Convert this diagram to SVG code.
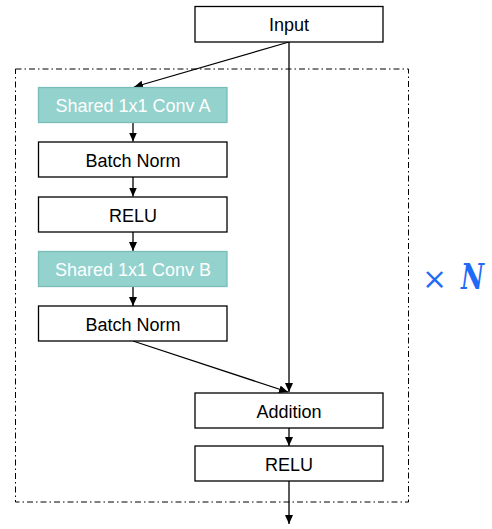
<svg xmlns="http://www.w3.org/2000/svg" width="492" height="529" viewBox="0 0 492 529">
<style>
.box{fill:#fff;stroke:#000;stroke-width:1.3}
.teal{fill:#93d2cd;stroke:#78bdb7;stroke-width:1.3}
.t{font-family:"Liberation Sans",Arial,sans-serif;font-size:18px;text-anchor:middle;fill:#000}
.tw{fill:#fff}
.c{stroke:#000;stroke-width:1.3;fill:none}
</style>
<defs>
<marker id="ah" markerWidth="10" markerHeight="10" refX="9" refY="5" orient="auto" markerUnits="userSpaceOnUse">
<path d="M0,1 L9,5 L0,9 Z" fill="#000"/>
</marker>
</defs>
<rect x="15.5" y="69" width="393" height="433" fill="none" stroke="#000" stroke-width="1" stroke-dasharray="6,3,1.5,3"/>
<g id="connectors">
<line class="c" x1="289" y1="42" x2="134" y2="87" marker-end="url(#ah)"/>
<line class="c" x1="289" y1="42" x2="289" y2="392" marker-end="url(#ah)"/>
<line class="c" x1="133" y1="123" x2="133" y2="141.5" marker-end="url(#ah)"/>
<line class="c" x1="133" y1="177" x2="133" y2="196.5" marker-end="url(#ah)"/>
<line class="c" x1="133" y1="232" x2="133" y2="251" marker-end="url(#ah)"/>
<line class="c" x1="133" y1="287" x2="133" y2="306" marker-end="url(#ah)"/>
<line class="c" x1="133" y1="341" x2="288" y2="392" marker-end="url(#ah)"/>
<line class="c" x1="289" y1="428" x2="289" y2="446" marker-end="url(#ah)"/>
<line class="c" x1="289" y1="481" x2="289" y2="524" marker-end="url(#ah)"/>
</g>
<g id="input"><rect class="box" x="195" y="6.5" width="188" height="35.5"/><text class="t" x="289" y="31">Input</text></g>
<g id="convA"><rect class="teal" x="38.5" y="87.5" width="188.5" height="35"/><text class="t tw" x="133" y="112">Shared 1x1 Conv A</text></g>
<g id="bn1"><rect class="box" x="38.5" y="142" width="188.5" height="35"/><text class="t" x="133" y="166.5">Batch Norm</text></g>
<g id="relu1"><rect class="box" x="38.5" y="197" width="188.5" height="35"/><text class="t" x="133" y="221.5">RELU</text></g>
<g id="convB"><rect class="teal" x="38.5" y="251.5" width="188.5" height="35"/><text class="t tw" x="133" y="276">Shared 1x1 Conv B</text></g>
<g id="bn2"><rect class="box" x="38.5" y="306" width="188.5" height="35"/><text class="t" x="133" y="330.5">Batch Norm</text></g>
<g id="addition"><rect class="box" x="195" y="393" width="188" height="35"/><text class="t" x="289" y="417.5">Addition</text></g>
<g id="relu2"><rect class="box" x="195" y="446" width="188" height="35"/><text class="t" x="289" y="470.5">RELU</text></g>
<g id="times-n"><text x="422" y="289" font-family="'DejaVu Serif',serif" font-size="30" fill="#1f6bf7">×</text><text x="461" y="289" font-family="'DejaVu Serif',serif" font-size="35" font-weight="bold" font-style="italic" fill="#1f6bf7" textLength="23" lengthAdjust="spacingAndGlyphs">N</text></g>
</svg>
